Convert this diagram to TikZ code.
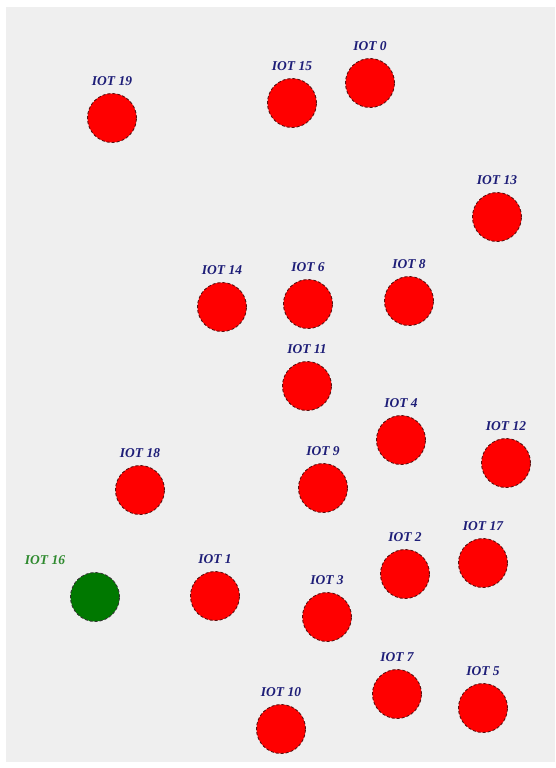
\documentclass[tikz,border=0pt]{standalone}
\usepackage{fontspec}
\setmainfont{Liberation Serif}
\usetikzlibrary{positioning}
\definecolor{panelgray}{HTML}{EFEFEF}
\definecolor{iotred}{HTML}{FF0000}
\definecolor{iotgreen}{HTML}{007800}
\definecolor{iotrim}{HTML}{5A1010}
\definecolor{lblblue}{HTML}{1E1E78}
\definecolor{lblgreen}{HTML}{2F8A2F}
\tikzset{
  iot/.style={circle,minimum size=49pt,inner sep=0pt,fill=iotred,draw=iotrim,densely dashed,line width=0.9pt},
  sink/.style={iot,fill=iotgreen,draw=black!80},
  lbl/.style={inner sep=1pt,text=lblblue,font=\fontsize{13.5}{15}\selectfont\bfseries\itshape},
}
\begin{document}
\begin{tikzpicture}[x=1pt,y=-1pt]
  \useasboundingbox (0,0) rectangle (555,768);
  \fill[panelgray] (6,7) rectangle (555,762);
  % sensor nodes
  \foreach \n/\x/\y in {0/370/83, 15/292/103, 19/112/118, 13/497/217,
      14/222/307, 6/308/304, 8/409/301, 11/307/386, 4/401/440,
      12/506/463, 18/140/490, 9/323/488, 2/405/574, 17/483/563,
      1/215/596, 3/327/617, 7/397/694, 5/483/708, 10/281/729}
  {
    \node[iot] (n\n) at (\x,\y) {};
    \node[lbl,above=6pt of n\n] (l\n) {IOT \n};
  }
  % sink
  \node[sink] (n16) at (95,597) {};
  \node[lbl,text=lblgreen,above=6pt of n16,xshift=-50pt] (l16) {IOT 16};
\end{tikzpicture}
\end{document}
